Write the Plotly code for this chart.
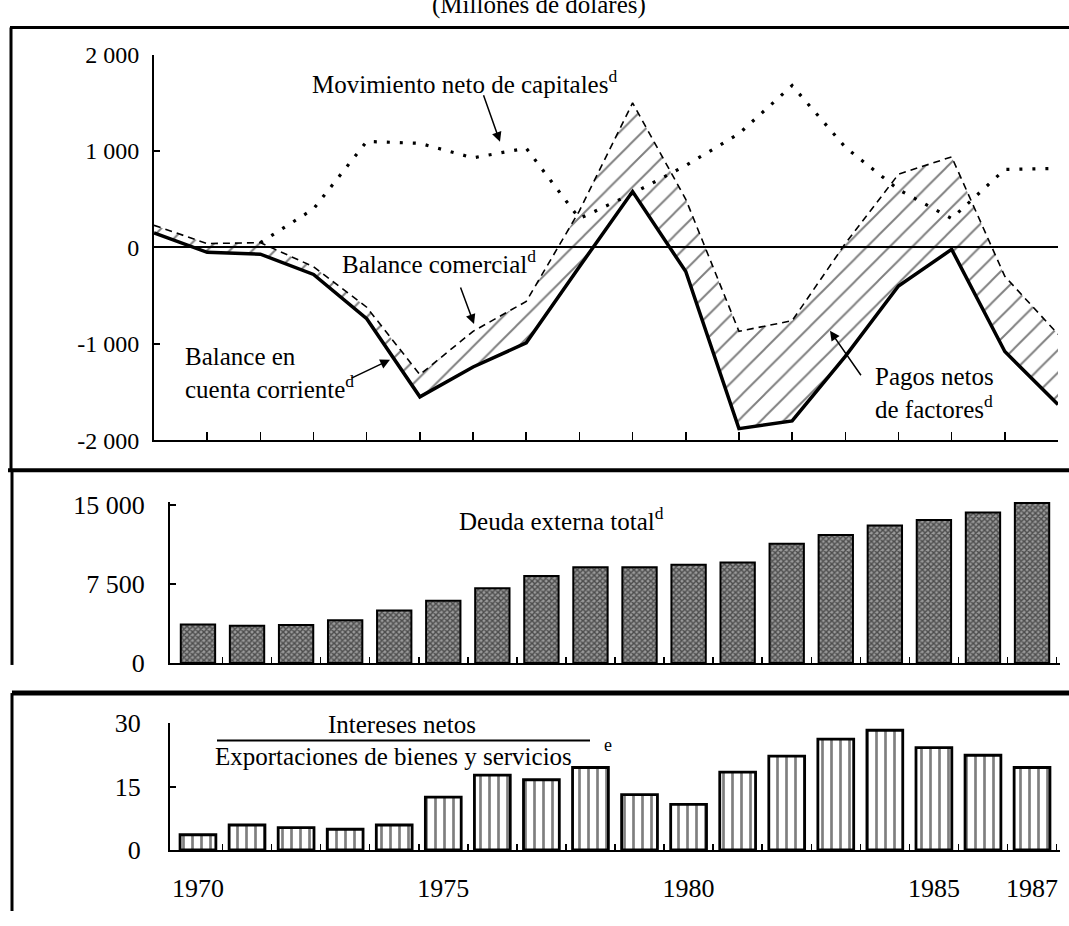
import plotly.graph_objects as go

# ---------------- data ----------------
years = list(range(1970, 1988))

current_account = [150, -50, -70, -280, -740, -1550, -1240, -990, -200, 580,
                   -250, -1880, -1800, -1130, -400, -20, -1080, -1630]
trade_balance = [230, 40, 50, -200, -620, -1320, -870, -560, 380, 1500,
                 500, -870, -760, 40, 760, 940, -300, -900]
capital_flow = [None, None, 50, 400, 1100, 1080, 930, 1030, 300, 560,
                850, 1180, 1680, 1040, 600, 300, 810, 820]

external_debt = [3670, 3550, 3620, 4070, 4990, 5910, 7100, 8270, 9090, 9090,
                 9340, 9550, 11330, 12150, 13070, 13590, 14300, 15210]
interest_ratio = [3.6, 5.9, 5.3, 4.9, 5.9, 12.5, 17.7, 16.6, 19.5, 13.1,
                  10.8, 18.4, 22.2, 26.2, 28.3, 24.2, 22.4, 19.5]

top_ticks = [-2000, -1000, 0, 1000, 2000]
top_ticktext = ["-2 000", "-1 000", "0", "1 000", "2 000"]
mid_ticks = [0, 7500, 15000]
mid_ticktext = ["0", "7 500", "15 000"]
bot_ticks = [0, 15, 30]
bot_ticktext = ["0", "15", "30"]
year_labels = [1970, 1975, 1980, 1985, 1987]

# ---------------- layout helpers ----------------
W, H = 1069, 926
FONT = "Liberation Serif"
FS = 25


def px(x):
    return x / W


def py(y):
    return 1 - y / H


fig = go.Figure()

# top panel
fig.add_trace(go.Scatter(x=years, y=current_account, mode="lines",
                         line=dict(color="black", width=3.5),
                         xaxis="x", yaxis="y", showlegend=False))
fig.add_trace(go.Scatter(x=years, y=trade_balance, mode="lines",
                         line=dict(color="black", width=1.6, dash="7px,5px"),
                         fill="tonexty", fillcolor="rgba(0,0,0,0)",
                         fillpattern=dict(shape="/", fgcolor="black",
                                          bgcolor="rgba(0,0,0,0)", size=16,
                                          solidity=0.12),
                         xaxis="x", yaxis="y", showlegend=False))
fig.add_trace(go.Scatter(x=years, y=capital_flow, mode="lines",
                         line=dict(color="black", width=3.2, dash="3px,10px"),
                         connectgaps=False,
                         xaxis="x", yaxis="y", showlegend=False))

# middle panel
fig.add_trace(go.Bar(x=years, y=external_debt, width=0.7,
                     marker=dict(color="#4a4a4a",
                                 line=dict(color="black", width=2),
                                 pattern=dict(shape="x", fgcolor="black",
                                              bgcolor="#9a9a9a", size=4,
                                              solidity=0.6)),
                     xaxis="x2", yaxis="y2", showlegend=False))

# bottom panel
fig.add_trace(go.Bar(x=years, y=interest_ratio, width=0.73,
                     marker=dict(color="white",
                                 line=dict(color="black", width=2.8),
                                 pattern=dict(shape="|", fgcolor="black",
                                              bgcolor="white", size=9,
                                              solidity=0.3)),
                     xaxis="x3", yaxis="y3", showlegend=False))

top_font = dict(family=FONT, size=24, color="black")
low_font = dict(family=FONT, size=26, color="black")
xr = [1969.43, 1987.57]
half_years = [y + 0.5 for y in years]

fig.update_layout(
    width=W, height=H, autosize=False,
    margin=dict(l=0, r=0, t=0, b=0),
    paper_bgcolor="white", plot_bgcolor="rgba(0,0,0,0)",
    font=dict(family=FONT, size=FS, color="black"),
    bargap=0,
    xaxis=dict(domain=[px(154), px(1058)], range=[1970, 1987], anchor="y",
               showline=True, linewidth=2, linecolor="black",
               tickmode="array", tickvals=years[1:], ticks="inside",
               ticklen=8, tickwidth=1.5, tickcolor="black",
               showticklabels=False, showgrid=False, zeroline=False),
    yaxis=dict(domain=[py(440), py(42)], range=[-2000, 2000], anchor="x",
               showline=True, linewidth=2, linecolor="black",
               tickmode="array", tickvals=top_ticks, ticktext=top_ticktext,
               ticks="inside", ticklen=6, tickwidth=2, tickcolor="black",
               tickfont=top_font, ticklabelstandoff=8,
               showgrid=False, zeroline=True, zerolinecolor="black",
               zerolinewidth=2),
    xaxis2=dict(domain=[px(170), px(1060)], range=xr, anchor="y2",
                showline=True, linewidth=2, linecolor="black",
                tickmode="array", tickvals=half_years,
                ticks="inside", ticklen=6, tickwidth=1.5, tickcolor="black",
                showticklabels=False, showgrid=False, zeroline=False),
    yaxis2=dict(domain=[py(670), py(503.7)], range=[0, 15300], anchor="x2",
                showline=True, linewidth=2, linecolor="black",
                tickmode="array", tickvals=mid_ticks, ticktext=mid_ticktext,
                ticks="inside", ticklen=6, tickwidth=2, tickcolor="black",
                tickfont=low_font, ticklabelstandoff=18,
                showgrid=False, zeroline=False),
    xaxis3=dict(domain=[px(170), px(1060)], range=xr, anchor="y3",
                showline=True, linewidth=2, linecolor="black",
                tickmode="array", tickvals=year_labels,
                ticktext=[str(v) for v in year_labels],
                ticks="", tickfont=low_font, ticklabelstandoff=14,
                minor=dict(tickmode="array", tickvals=half_years,
                           ticks="inside", ticklen=6, tickwidth=1.5,
                           tickcolor="black", showgrid=False),
                showgrid=False, zeroline=False),
    yaxis3=dict(domain=[py(863), py(732)], range=[0, 30], anchor="x3",
                showline=True, linewidth=2, linecolor="black",
                tickmode="array", tickvals=bot_ticks, ticktext=bot_ticktext,
                ticks="inside", ticklen=6, tickwidth=2, tickcolor="black",
                tickfont=low_font, ticklabelstandoff=22,
                showgrid=False, zeroline=False),
)

# ---------------- frame lines ----------------
frame = [
    (10, 14, 1069, 14, 3),      # top border
    (11, 14, 11, 471, 3),       # left border top panel
    (8, 471, 1069, 471, 4),     # separator top / middle
    (12, 471, 12, 672, 3),      # left border middle panel
    (12, 701, 1069, 701, 5),    # separator middle / bottom
    (12, 701, 12, 926, 3),      # left border bottom panel
    (217, 750, 590, 750, 2),    # fraction bar
]
for x0, y0, x1, y1, w in frame:
    fig.add_shape(type="line", xref="paper", yref="paper",
                  x0=px(x0), y0=py(y0), x1=px(x1), y1=py(y1),
                  line=dict(color="black", width=w))

# ---------------- text annotations ----------------
texts = [
    ("(Millones de dólares)", 539, 7, "center", "bottom", FS),
    ("Movimiento neto de capitales<sup>d</sup>", 310, 70, "left", "middle", FS),
    ("Balance comercial<sup>d</sup>", 340, 256, "left", "middle", FS),
    ("Balance en<br>cuenta corriente<sup>d</sup>", 183, 371, "left", "middle", FS),
    ("Pagos netos<br>de factores<sup>d</sup>", 873, 391, "left", "middle", FS),
    ("Deuda externa total<sup>d</sup>", 457, 521, "left", "middle", FS),
    ("Intereses netos", 402, 733, "center", "middle", FS),
    ("Exportaciones de bienes y servicios", 213, 767, "left", "middle", FS),
    ("e", 608, 755, "center", "middle", 18),
]
for t, x, y, xa, ya, fs in texts:
    fig.add_annotation(text=t, xref="paper", yref="paper", x=px(x), y=py(y),
                       xanchor=xa, yanchor=ya, showarrow=False, align="left",
                       font=dict(family=FONT, size=fs, color="black"))

# ---------------- arrows ----------------
arrows = [
    ((483, 84), (500, 132)),
    ((460, 282), (474, 320)),
    ((350, 376), (390, 357)),
    ((862, 373), (830, 327)),
]
for (sx, sy), (tx, ty) in arrows:
    fig.add_annotation(text="", xref="paper", yref="paper",
                       x=px(tx), y=py(ty), ax=sx - tx, ay=sy - ty,
                       showarrow=True, arrowhead=2, arrowsize=1.3,
                       arrowwidth=1.5, arrowcolor="black")

fig.write_html("out.html",
               config={"displayModeBar": False, "staticPlot": True},
               post_script="document.body.style.margin='0';"
                           "document.body.style.overflow='hidden';")
